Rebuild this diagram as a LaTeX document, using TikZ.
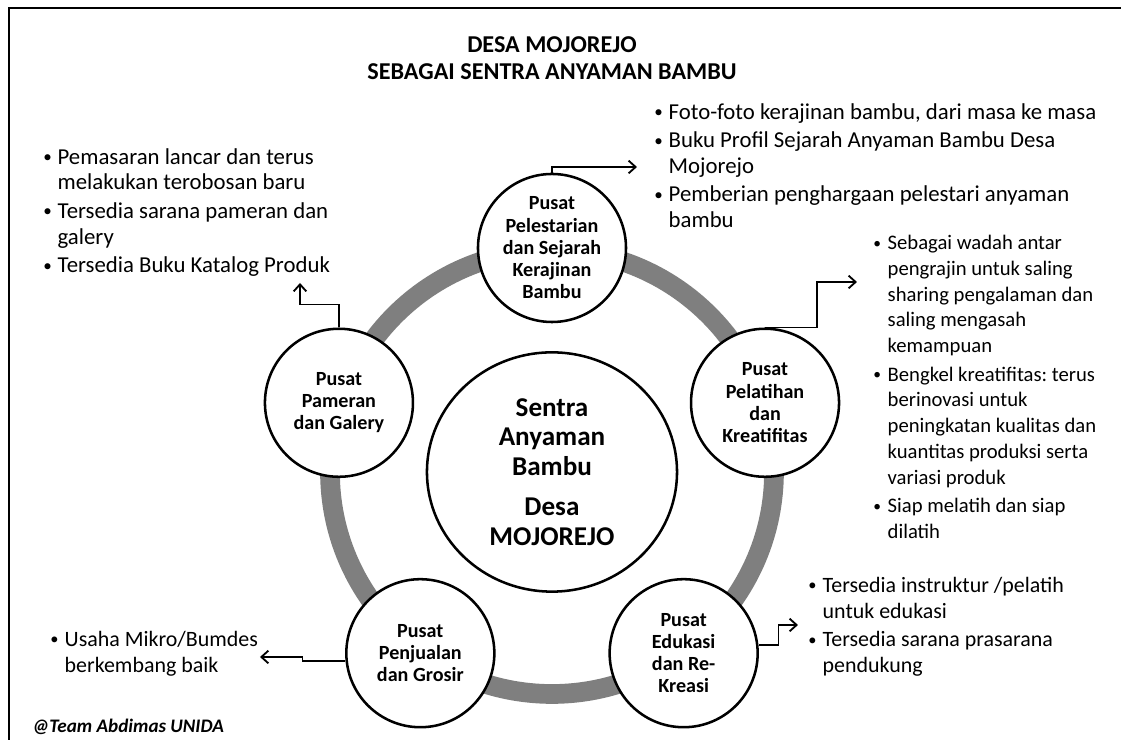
\documentclass[tikz,border=0pt]{standalone}
\usepackage{fontspec}
\setmainfont{Carlito}
\usepackage{xcolor}
\usepackage{tikz}
\usetikzlibrary{shapes.geometric, arrows, arrows.meta, positioning}

\definecolor{cincinabu}{HTML}{7F7F7F}
\newcommand{\butir}{\makebox[0.36cm][l]{\raisebox{0.15ex}{\scalebox{0.75}{\textbullet}}}}
\newcommand{\lanjut}{\hspace*{0.36cm}}

\begin{document}
\frenchspacing
\begin{tikzpicture}[x=0.025cm, y=0.025cm, >={Straight Barb[length=5pt, width=9pt]}]
    \tikzstyle{pusat} = [circle, minimum size=3.7cm, inner sep=0pt, draw=black, line width=1.8pt, fill=white, align=center, font=\fontsize{14.3}{15.8}\selectfont\bfseries]
    \tikzstyle{inti} = [ellipse, minimum width=6.25cm, minimum height=5.98cm, inner sep=0pt, draw=black, line width=1.8pt, fill=white, align=center, font=\fontsize{19.3}{21}\selectfont\bfseries]
    \tikzstyle{daftar} = [anchor=north west, inner sep=0pt, align=left, font=\fontsize{16.2}{18.3}\selectfont]
    \tikzstyle{arrow} = [line width=1.3pt,->]

    \useasboundingbox (-552,-268) rectangle (569,472);
    \draw [line width=2pt] (-543,-268) -- (-543,464) -- (569,464);

    % lingkaran abu-abu
    \draw [cincinabu, line width=14pt] (0,0) circle (222);

    \node (judul) at (0,414) [align=center, font=\fontsize{17.2}{19.2}\selectfont\bfseries] {DESA MOJOREJO\\SEBAGAI SENTRA ANYAMAN BAMBU};

    \node (sentra) at (0,0) [inti] {Sentra\\Anyaman\\Bambu\\[8pt]Desa\\MOJOREJO};
    \node (pelestarian) at (90:224) [pusat] {Pusat\\Pelestarian\\dan Sejarah\\Kerajinan\\Bambu};
    \node (pelatihan) at (18:224) [pusat] {Pusat\\Pelatihan\\dan\\Kreatifitas};
    \node (edukasi) at (306:224) [pusat] {Pusat\\Edukasi\\dan Re-\\Kreasi};
    \node (penjualan) at (234:224) [pusat] {Pusat\\Penjualan\\dan Grosir};
    \node (pameran) at (162:224) [pusat] {Pusat\\Pameran\\dan Galery};

    \node (ketpameran) at (-509,324) [daftar] {\butir Pemasaran lancar dan terus\\\lanjut melakukan terobosan baru\\[2pt]\butir Tersedia sarana pameran dan\\\lanjut galery\\[2pt]\butir Tersedia Buku Katalog Produk};
    \node (ketpelestarian) at (102,369) [daftar] {\butir Foto-foto kerajinan bambu, dari masa ke masa\\[2pt]\butir Buku Profil Sejarah Anyaman Bambu Desa\\\lanjut Mojorejo\\[2pt]\butir Pemberian penghargaan pelestari anyaman\\\lanjut bambu};
    \node (ketpelatihan) at (321,237) [daftar, font=\fontsize{14.7}{18.3}\selectfont] {\butir Sebagai wadah antar\\\lanjut pengrajin untuk saling\\\lanjut sharing pengalaman dan\\\lanjut saling mengasah\\\lanjut kemampuan\\[2pt]\butir Bengkel kreatifitas: terus\\\lanjut berinovasi untuk\\\lanjut peningkatan kualitas dan\\\lanjut kuantitas produksi serta\\\lanjut variasi produk\\[2pt]\butir Siap melatih dan siap\\\lanjut dilatih};
    \node (ketedukasi) at (256,-105) [daftar, font=\fontsize{15.6}{18.3}\selectfont] {\butir Tersedia instruktur /pelatih\\\lanjut untuk edukasi\\[2pt]\butir Tersedia sarana prasarana\\\lanjut pendukung};
    \node (ketpenjualan) at (-502,-159) [daftar, font=\fontsize{15.6}{18.3}\selectfont] {\butir Usaha Mikro/Bumdes\\\lanjut berkembang baik};

    \node (tim) at (-520,-255) [anchor=west, inner sep=0pt, font=\fontsize{13.6}{15}\selectfont\bfseries\itshape] {@Team Abdimas UNIDA};

    \coordinate (ujung1) at (85,305);
    \coordinate (ujung2) at (-252,189);
    \coordinate (ujung3) at (305,190);
    \coordinate (ujung4) at (246,-153);
    \coordinate (ujung5) at (-292,-185);

    \draw [arrow] (pelestarian.north) |- (ujung1);
    \draw [arrow] (pameran.north) -- ++(0,23) -| (ujung2);
    \draw [arrow] (pelatihan.north) -- ++(52,0) |- (ujung3);
    \draw [arrow] (edukasi.6) -- ++(20,0) |- (ujung4);
    \draw [arrow] (penjualan.186) -- ++(-43,0) |- (ujung5);
\end{tikzpicture}
\end{document}
